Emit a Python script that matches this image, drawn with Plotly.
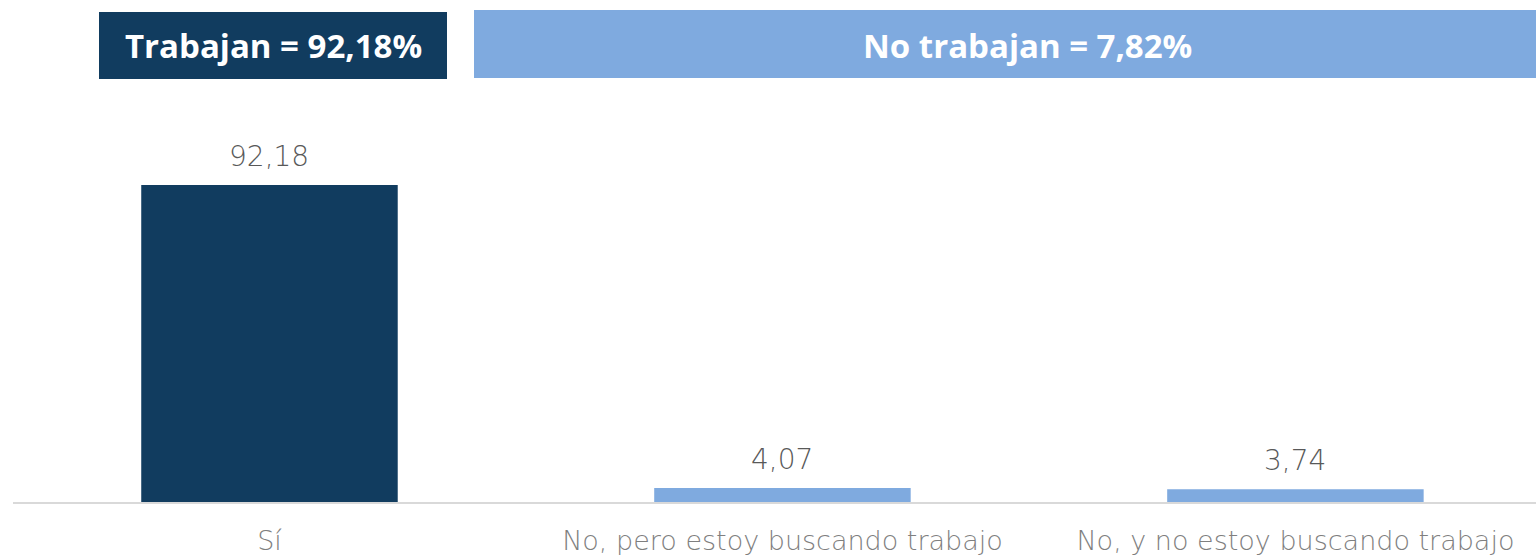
import plotly.graph_objects as go

categories = ["Sí", "No, pero estoy buscando trabajo", "No, y no estoy buscando trabajo"]
values = [92.18, 4.07, 3.74]
labels = ["92,18", "4,07", "3,74"]
bar_colors = ["#113C5F", "#7FAADF"]
header_texts = ["Trabajan = 92,18%", "No trabajan = 7,82%"]

# the page body has an 8px margin; the figure is placed at the page corner offset
OX, OY = 8, 8
W, H = 1536 - OX, 559 - OY
L, B = 13 - OX, 559 - 502
PW, PH = W - L, H - B

fig = go.Figure()
fig.add_trace(go.Bar(
    x=categories, y=values,
    marker=dict(color=[bar_colors[0], bar_colors[1], bar_colors[1]], line=dict(width=0)),
    width=0.5,
))

for c, v, t in zip(categories, values, labels):
    fig.add_annotation(x=c, y=v, text=t, showarrow=False, xanchor="center", yanchor="bottom",
                       yshift=10, font=dict(family="DejaVu Sans", size=28, color="#595959", weight=300))

fig.update_layout(
    width=W, height=H,
    margin=dict(l=L, r=0, t=0, b=B, autoexpand=False),
    paper_bgcolor="white", plot_bgcolor="white",
    showlegend=False,
    xaxis=dict(range=[-0.5, 2.469], showgrid=False, showline=True, linecolor="#D9D9D9", linewidth=2,
               tickfont=dict(family="DejaVu Sans", size=27, color="#7F7F7F", weight=300), ticks="outside",
               ticklen=14, tickcolor="rgba(0,0,0,0)"),
    yaxis=dict(range=[0, 143.7], visible=False),
)

def px(x):
    return (x - OX - L) / PW

def py(y):
    return (H - B - (y - OY)) / PH

# header boxes
fig.add_shape(type="rect", xref="paper", yref="paper", x0=px(99), x1=px(447),
              y0=py(79), y1=py(12), fillcolor=bar_colors[0], line=dict(width=0), layer="above")
fig.add_shape(type="rect", xref="paper", yref="paper", x0=px(474), x1=px(1600),
              y0=py(78), y1=py(10), fillcolor=bar_colors[1], line=dict(width=0), layer="above")
fig.add_annotation(xref="paper", yref="paper", x=px(273), y=py(46), xanchor="center", yanchor="middle",
                   text="<b>%s</b>" % header_texts[0], showarrow=False,
                   font=dict(family="Open Sans", size=33, color="white"))
fig.add_annotation(xref="paper", yref="paper", x=px(1027), y=py(46), xanchor="center", yanchor="middle",
                   text="<b>%s</b>" % header_texts[1], showarrow=False,
                   font=dict(family="Open Sans", size=33, color="white"))

fig.write_html("out.html", post_script="document.body.style.margin='0';document.body.style.padding='0';"
               "var d=document.getElementById('{plot_id}');d.style.position='absolute';d.style.left='8px';d.style.top='8px';")
